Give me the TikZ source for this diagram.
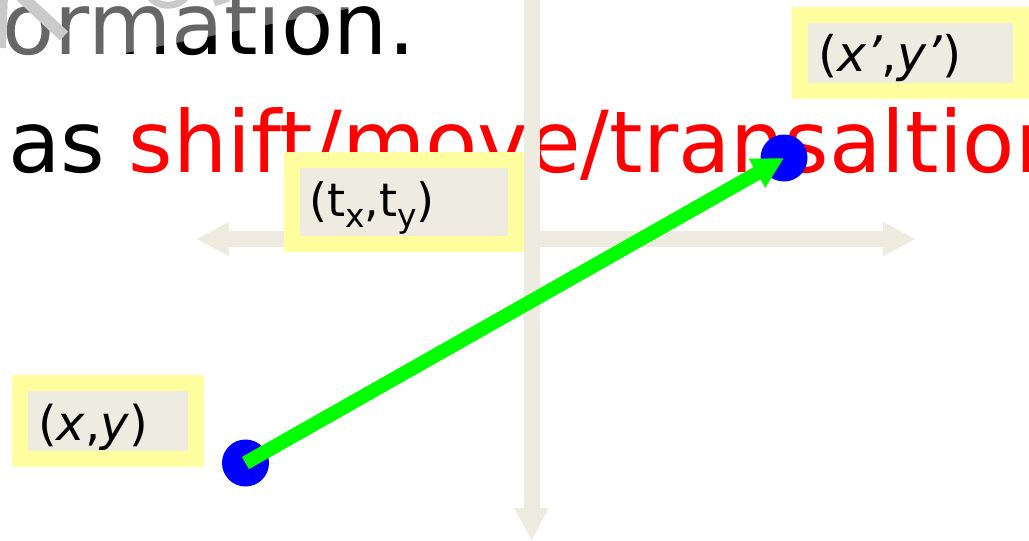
\documentclass[tikz,border=0pt]{standalone}
\usepackage{fontspec}
\setmainfont{DejaVu Sans}
\usetikzlibrary{arrows.meta}
\definecolor{axisgray}{HTML}{EEECE1}
\definecolor{boxyellow}{HTML}{FFFFA0}
\definecolor{boxfill}{HTML}{EEECE1}
\definecolor{ptblue}{HTML}{0000FF}
\definecolor{vecgreen}{HTML}{00FF00}
\definecolor{lightstroke}{HTML}{CACACA}
\newcommand\mysub[1]{\raisebox{-0.24em}{\fontsize{33}{33}\selectfont #1}}
\begin{document}
\begin{tikzpicture}[x=1pt,y=-1pt,
  bigtext/.style={inner sep=0pt, anchor=base west, font=\fontsize{85.5}{100}\selectfont},
  lblbox/.style={draw=boxyellow, line width=16pt, fill=boxfill, inner sep=0pt, outer sep=0pt, anchor=north west},
  lbltext/.style={inner sep=0pt, anchor=base west, font=\fontsize{48}{56}\selectfont},
  axisline/.style={draw=axisgray, line width=16pt},
  ptdot/.style={circle, fill=ptblue, minimum size=47pt, inner sep=0pt},
  vec/.style={draw=vecgreen, line width=14pt, -{Triangle[length=31pt,width=31pt]}},
  ghost/.style={draw=lightstroke, line cap=butt}]
\useasboundingbox (0,0) rectangle (1029,541);
\clip (0,0) rectangle (1029,541);
% slide text
\node[bigtext] (line1) at (2.3,54) {ormation.};
\node[bigtext] (as) at (7.9,172) {as};
\node[bigtext, text=red] (shift) at (128.4,172) {shift/move/transaltion};
% fading overlay at top left
\fill[white, opacity=0.4] (0,0) -- (392,0) -- (0,78) -- cycle;
\draw[ghost, line width=12pt] (20,-5) -- (64,36);
\draw[ghost, line width=8pt] (4,-5) -- (2,48);
\draw[ghost, line width=7pt] (150,-3) .. controls (158,8) and (178,8) .. (186,-3);
\draw[ghost, line width=7pt] (214,3) -- (229,-2);
% axes
\coordinate (hl) at (196,239);
\coordinate (hr) at (916,239);
\coordinate (vt) at (531.5,-20);
\coordinate (vb) at (531.5,541);
\draw[axisline, {Triangle[length=33pt,width=32pt]}-{Triangle[length=33pt,width=32pt]}] (hl) -- (hr);
\draw[axisline, -{Triangle[length=33pt,width=32pt]}] (vt) -- (vb);
% label boxes
\node[lblbox, minimum width=176pt, minimum height=76pt] (boxxy) at (20,383) {};
\node[lbltext] (labxy) at (38,440) {(\textit{x},\textit{y})};
\node[lblbox, minimum width=224pt, minimum height=84pt] (boxt) at (291.5,159.5) {};
\node[lbltext, font=\fontsize{46}{54}\selectfont] (labt) at (309,216) {(t\mysub{x},t\mysub{y})};
\node[lblbox, minimum width=221pt, minimum height=76pt] (boxp) at (800,15) {};
\node[lbltext, font=\fontsize{49}{56}\selectfont] (labp) at (818,71.4) {(\textit{x’},\textit{y’})};
% points and translation vector
\node[ptdot] (p) at (245.5,463) {};
\node[ptdot] (pp) at (784,158) {};
\draw[vec] (p.center) -- (pp.center);
\end{tikzpicture}
\end{document}
